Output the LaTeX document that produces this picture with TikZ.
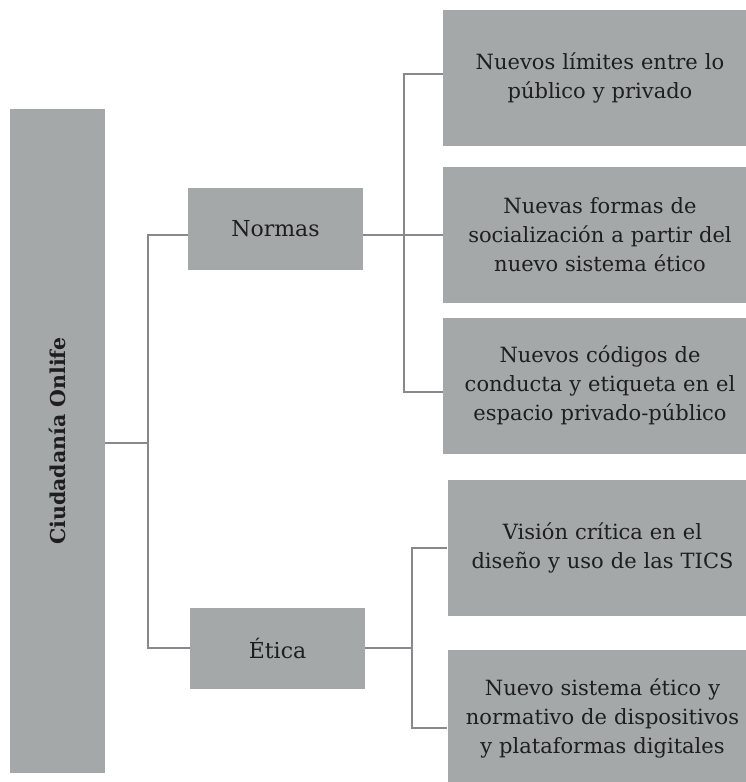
\documentclass[tikz,border=0pt]{standalone}
\usepackage{fontspec}
\setmainfont{DejaVu Serif}
\usepackage{tikz}
\definecolor{boxgray}{RGB}{165,168,168}
\definecolor{linegray}{RGB}{137,137,141}
\definecolor{inkgray}{RGB}{30,30,30}

\begin{document}
\begin{tikzpicture}[x=1pt,y=-1pt,
  box/.style={fill=boxgray,text=inkgray,align=center,inner sep=0pt,font=\fontsize{21}{29}\selectfont},
  leaf/.style={box,minimum height=136pt,text width=310pt},
  link/.style={draw=linegray,line width=2.4pt}]
\useasboundingbox (0,0) rectangle (746,782);
%root p=(57.5,441)
\node[box,minimum width=95pt,minimum height=664pt] (root) at (57.5,441) {};
\node[rotate=90,text=inkgray,font=\bfseries\fontsize{20.5}{24}\selectfont] (rootlbl) at (root.center) {Ciudadanía Onlife};
%middle level
\node[box,minimum width=175pt,minimum height=82pt,font=\fontsize{22}{29}\selectfont] (normas) at (275.5,229) {Normas};
\node[box,minimum width=175pt,minimum height=81pt,font=\fontsize{22}{29}\selectfont] (etica) at (277.5,648) {Ética};
%leaves of Normas
\node[leaf,minimum width=314pt] (lim) at (600,78) {Nuevos límites entre lo\\público y privado};
\node[leaf,minimum width=314pt] (soc) at (600,235) {Nuevas formas de\\socialización a partir del\\nuevo sistema ético};
\node[leaf,minimum width=314pt] (cod) at (600,385.5) {Nuevos códigos de\\conducta y etiqueta en el\\espacio privado-público};
%leaves of Etica
\node[leaf,minimum width=309pt] (vis) at (602.5,548) {Visión crítica en el\\diseño y uso de las TICS};
\node[leaf,minimum width=309pt] (sis) at (602.5,718) {Nuevo sistema ético y\\normativo de dispositivos\\y plataformas digitales};
%split points
\coordinate (sp1) at (148,443);
\coordinate (sp2) at (404,235);
\coordinate (sp3) at (412,648);
%connectors
\draw[link] (root.east |- sp1) -- (sp1);
\draw[link] ([yshift=-6pt]normas.west) -| (sp1) |- (etica.west);
\draw[link] ([yshift=-6pt]normas.east) -- (sp2);
\draw[link] ([yshift=4pt]lim.west) -| (sp2) |- ([yshift=-6.5pt]cod.west);
\draw[link] (sp2) -- (soc.west);
\draw[link] (etica.east) -- (sp3);
\draw[link] (vis.west) -| (sp3) |- ([yshift=-10pt]sis.west);
\end{tikzpicture}
\end{document}
